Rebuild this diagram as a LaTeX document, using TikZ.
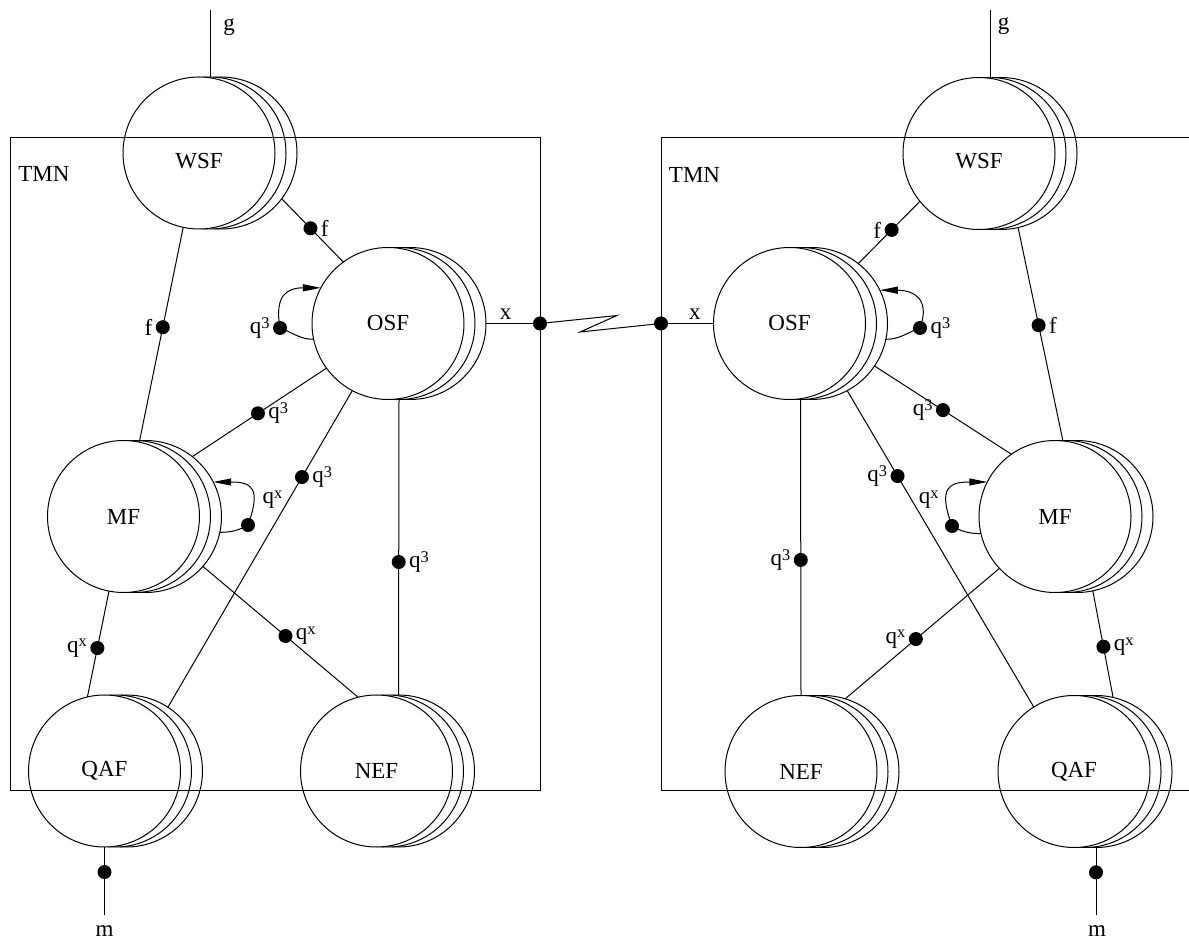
\documentclass[tikz,border=0pt]{standalone}
\usepackage{fontspec}
\setmainfont{Liberation Serif}
\usetikzlibrary{arrows.meta}
\newcommand\sps[1]{\raisebox{0.23em}{\fontsize{8.2}{9}\selectfont #1}}
\newcommand\stk[5]{%
  \node[fn] (#1b) at (#2+22,#3) {};
  \node[fn] (#1a) at (#2+11,#3) {};
  \node[fn,label={[yshift=#5]center:#4}] (#1) at (#2,#3) {};}
\begin{document}
\begin{tikzpicture}[x=0.5pt,y=0.5pt,line width=0.5pt,
  font=\fontsize{11.5}{13}\selectfont,
  fn/.style={circle,draw,fill=white,minimum size=76pt,inner sep=0pt,outer sep=0pt},
  dot/.style={circle,fill=black,minimum size=7pt,inner sep=0pt,outer sep=0pt},
  lbl/.style={inner sep=1.5pt},
  arr/.style={-{Triangle[length=9pt,width=3.5pt]}}]
\useasboundingbox (0,0) rectangle (1189,-940);
% ---- function blocks (left)
\stk{wsfL}{199}{-153}{WSF}{-4pt}
\stk{osfL}{388}{-323.5}{OSF}{0pt}
\stk{mfL}{123.5}{-516.5}{MF}{0pt}
\stk{qafL}{104.5}{-771}{QAF}{0pt}
\stk{nefL}{376.5}{-771}{NEF}{0pt}
% ---- function blocks (right)
\stk{wsfR}{979}{-153.5}{WSF}{-4pt}
\stk{osfR}{789.5}{-323.5}{OSF}{0pt}
\stk{mfR}{1055}{-516.5}{MF}{0pt}
\stk{nefR}{801}{-771.5}{NEF}{0pt}
\stk{qafR}{1074}{-771.5}{QAF}{0pt}
% ---- TMN boxes
\draw (10,-138) rectangle (540,-790);
\draw (1189,-138) -- (661,-138) -- (661,-790) -- (1189,-790);
\node (tmnL) at (44,-174) {TMN};
\node (tmnR) at (694.5,-174.5) {TMN};
% ---- left connectors
\coordinate (gL) at (210,-10);
\draw (wsfLa.north) -- (gL);
\node (gLt) at (229,-27.5) {g};
\draw (wsfL.-102) -- node[dot,pos=.465,label={[lbl]left:f}] (d1) {} (mfL.78.4);
\draw (wsfLb.-37.6) -- node[dot,pos=.467,label={[lbl]right:f}] (d2) {} (osfL.126.8);
\node[dot,label={[lbl]left:q\sps{3}}] (l1) at (280,-328) {};
\draw (osfL.-168.3) to[out=180,in=-20] (l1.center);
\draw[arr] (l1.center) to[out=100,in=180,looseness=1.5] (osfL.152.4);
\draw (osfL.-144.8) -- node[dot,pos=.511,label={[lbl]right:q\sps{3}}] (d3) {} (mfLb.52.9);
\draw (osfL.-118.1) -- node[dot,pos=.273,label={[lbl]right:q\sps{3}}] (d4) {} (qafLb.57.4);
\draw (osfLa.south) -- node[dot,pos=.55,label={[lbl]right:q\sps{3}}] (d5) {} (nefLb.north);
\draw (mfL.-101.6) -- node[dot,pos=.538,label={[lbl]left:q\sps{x}}] (d6) {} (qafL.103.1);
\draw (mfLb.-41.8) -- node[dot,pos=.532,label={[lbl]right:q\sps{x}}] (d7) {} (nefL.104.8);
\node[dot] (l2) at (248,-525) {};
\draw (mfLb.-12.5) to[out=0,in=-150] (l2.center);
\draw[arr] (l2.center) to[out=70,in=0,looseness=1.8] (mfLb.27.1);
\node[lbl,anchor=west] (l2t) at (259,-500) {q\sps{x}};
\node[dot] (xL) at (540,-323.5) {};
\node[dot] (xR) at (661,-323.5) {};
\draw (osfLb.east) -- node[pos=.42,above,inner sep=1.5pt] {x} (xL);
\coordinate (z1) at (617,-315.5);
\coordinate (z2) at (580,-332);
\draw (xL.center) -- (z1) -- (z2) -- (xR.center);
\coordinate (mLe) at (104.5,-915);
\draw (qafL.south) -- node[dot,pos=.368] (d8) {} (mLe);
\node (mLt) at (104.5,-931.5) {m};
% ---- right connectors
\coordinate (gR) at (990,-10);
\draw (wsfRa.north) -- (gR);
\node (gRt) at (1003.5,-26.5) {g};
\draw (xR) -- node[pos=.59,above,inner sep=1.5pt] {x} (osfR.west);
\draw (wsfR.-141.1) -- node[dot,pos=.459,label={[lbl]left:f}] (e1) {} (osfRb.52.9);
\draw (wsfRb.-77.3) -- node[dot,pos=.458,label={[lbl]right:f}] (e2) {} (mfR.84.7);
\node[dot,label={[lbl]right:q\sps{3}}] (l3) at (920,-328) {};
\draw (osfRb.-12.3) to[out=0,in=-160] (l3.center);
\draw[arr] (l3.center) to[out=70,in=0,looseness=1.5] (osfRb.26.1);
\draw (osfRb.-34) -- node[dot,pos=.5,label={[lbl]left:q\sps{3}}] (e3) {} (mfR.125.8);
\draw (osfRb.-62) -- node[dot,pos=.27,label={[lbl]left:q\sps{3}}] (e4) {} (qafR.122);
\draw (osfRa.south) -- node[dot,pos=.542,label={[lbl]left:q\sps{3}}] (e5) {} (nefR.north);
\draw (mfR.-137.9) -- node[dot,pos=.542,label={[lbl]left:q\sps{x}}] (e6) {} (nefRb.73.5);
\draw (mfRb.-78) -- node[dot,pos=.524,label={[lbl]right:q\sps{x}}] (e7) {} (qafRb.77.1);
\node[dot] (l4) at (952,-526) {};
\draw (mfR.-167.6) to[out=180,in=-30] (l4.center);
\draw[arr] (l4.center) to[out=110,in=180,looseness=1.8] (mfR.153.1);
\node[lbl,anchor=east] (l4t) at (942,-500) {q\sps{x}};
\coordinate (mRe) at (1096,-915);
\draw (qafRb.south) -- node[dot,pos=.368] (e8) {} (mRe);
\node (mRt) at (1097,-931.5) {m};
\end{tikzpicture}
\end{document}
